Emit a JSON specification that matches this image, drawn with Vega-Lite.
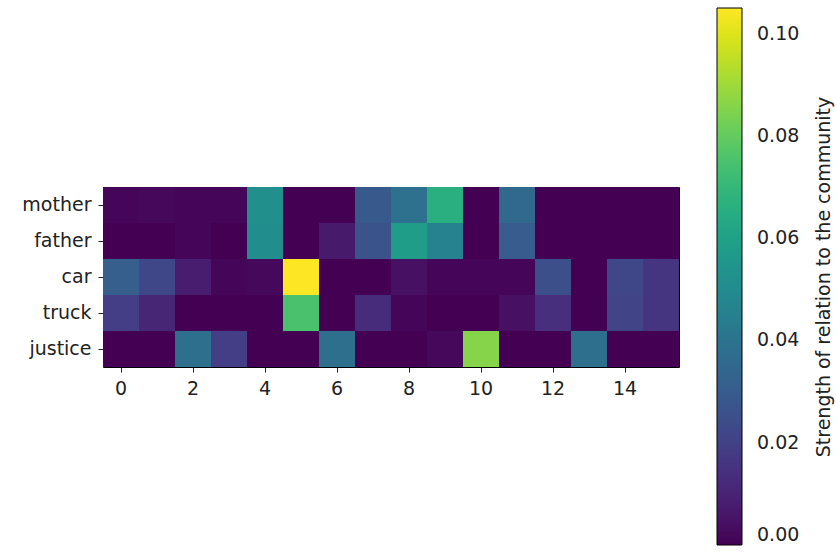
{
  "$schema": "https://vega.github.io/schema/vega-lite/v6.json",
  "width": 576,
  "height": 180,
  "autosize": {"type": "none"},
  "padding": {"left": 103, "top": 187, "right": 157, "bottom": 190},
  "background": "white",
  "config": {
    "font": "DejaVu Sans",
    "view": {"stroke": "black", "strokeWidth": 1},
    "axis": {"labelFont": "DejaVu Sans", "labelFontSize": 19, "labelColor": "#222", "tickColor": "#222", "domain": false, "grid": false, "tickSize": 5}
  },
  "data": {
    "values": [
      {"word": "mother", "col": 0, "v": 0.001}, {"word": "mother", "col": 1, "v": 0.002}, {"word": "mother", "col": 2, "v": 0.001}, {"word": "mother", "col": 3, "v": 0.001},
      {"word": "mother", "col": 4, "v": 0.052}, {"word": "mother", "col": 5, "v": 0.0}, {"word": "mother", "col": 6, "v": 0.0}, {"word": "mother", "col": 7, "v": 0.029},
      {"word": "mother", "col": 8, "v": 0.039}, {"word": "mother", "col": 9, "v": 0.066}, {"word": "mother", "col": 10, "v": 0.0}, {"word": "mother", "col": 11, "v": 0.035},
      {"word": "mother", "col": 12, "v": 0.0}, {"word": "mother", "col": 13, "v": 0.0}, {"word": "mother", "col": 14, "v": 0.0}, {"word": "mother", "col": 15, "v": 0.0},
      {"word": "father", "col": 0, "v": 0.0}, {"word": "father", "col": 1, "v": 0.0}, {"word": "father", "col": 2, "v": 0.001}, {"word": "father", "col": 3, "v": 0.0},
      {"word": "father", "col": 4, "v": 0.051}, {"word": "father", "col": 5, "v": 0.0}, {"word": "father", "col": 6, "v": 0.007}, {"word": "father", "col": 7, "v": 0.027},
      {"word": "father", "col": 8, "v": 0.058}, {"word": "father", "col": 9, "v": 0.046}, {"word": "father", "col": 10, "v": 0.0}, {"word": "father", "col": 11, "v": 0.030},
      {"word": "father", "col": 12, "v": 0.0}, {"word": "father", "col": 13, "v": 0.0}, {"word": "father", "col": 14, "v": 0.0}, {"word": "father", "col": 15, "v": 0.0},
      {"word": "car", "col": 0, "v": 0.031}, {"word": "car", "col": 1, "v": 0.022}, {"word": "car", "col": 2, "v": 0.008}, {"word": "car", "col": 3, "v": 0.001},
      {"word": "car", "col": 4, "v": 0.002}, {"word": "car", "col": 5, "v": 0.105}, {"word": "car", "col": 6, "v": 0.0}, {"word": "car", "col": 7, "v": 0.0},
      {"word": "car", "col": 8, "v": 0.004}, {"word": "car", "col": 9, "v": 0.001}, {"word": "car", "col": 10, "v": 0.001}, {"word": "car", "col": 11, "v": 0.001},
      {"word": "car", "col": 12, "v": 0.025}, {"word": "car", "col": 13, "v": 0.0}, {"word": "car", "col": 14, "v": 0.022}, {"word": "car", "col": 15, "v": 0.016},
      {"word": "truck", "col": 0, "v": 0.019}, {"word": "truck", "col": 1, "v": 0.011}, {"word": "truck", "col": 2, "v": 0.0}, {"word": "truck", "col": 3, "v": 0.0},
      {"word": "truck", "col": 4, "v": 0.0}, {"word": "truck", "col": 5, "v": 0.075}, {"word": "truck", "col": 6, "v": 0.0}, {"word": "truck", "col": 7, "v": 0.013},
      {"word": "truck", "col": 8, "v": 0.001}, {"word": "truck", "col": 9, "v": 0.0}, {"word": "truck", "col": 10, "v": 0.0}, {"word": "truck", "col": 11, "v": 0.004},
      {"word": "truck", "col": 12, "v": 0.014}, {"word": "truck", "col": 13, "v": 0.0}, {"word": "truck", "col": 14, "v": 0.021}, {"word": "truck", "col": 15, "v": 0.016},
      {"word": "justice", "col": 0, "v": 0.0}, {"word": "justice", "col": 1, "v": 0.0}, {"word": "justice", "col": 2, "v": 0.038}, {"word": "justice", "col": 3, "v": 0.019},
      {"word": "justice", "col": 4, "v": 0.0}, {"word": "justice", "col": 5, "v": 0.0}, {"word": "justice", "col": 6, "v": 0.038}, {"word": "justice", "col": 7, "v": 0.0},
      {"word": "justice", "col": 8, "v": 0.0}, {"word": "justice", "col": 9, "v": 0.002}, {"word": "justice", "col": 10, "v": 0.086}, {"word": "justice", "col": 11, "v": 0.0},
      {"word": "justice", "col": 12, "v": 0.0}, {"word": "justice", "col": 13, "v": 0.038}, {"word": "justice", "col": 14, "v": 0.0}, {"word": "justice", "col": 15, "v": 0.0}
    ]
  },
  "mark": {"type": "rect"},
  "encoding": {
    "x": {
      "field": "col", "type": "ordinal",
      "scale": {"paddingInner": 0, "paddingOuter": 0},
      "axis": {"title": null, "values": [0, 2, 4, 6, 8, 10, 12, 14], "labelAngle": 0, "labelPadding": 7}
    },
    "y": {
      "field": "word", "type": "nominal",
      "sort": ["mother", "father", "car", "truck", "justice"],
      "scale": {"paddingInner": 0, "paddingOuter": 0},
      "axis": {"title": null, "labelPadding": 7}
    },
    "color": {
      "field": "v", "type": "quantitative",
      "scale": {"scheme": "viridis", "domain": [0, 0.105]},
      "legend": {
        "orient": "none",
        "legendX": 614,
        "legendY": -179,
        "direction": "vertical",
        "gradientLength": 537,
        "gradientThickness": 25,
        "gradientStrokeColor": "black",
        "gradientStrokeWidth": 1,
        "values": [0, 0.02, 0.04, 0.06, 0.08, 0.1],
        "format": ".2f",
        "labelFont": "DejaVu Sans",
        "labelFontSize": 19,
        "labelColor": "#222",
        "labelOffset": 15,
        "title": "Strength of relation to the community",
        "titleLimit": 600,
        "titleOrient": "right",
        "titleFont": "DejaVu Sans",
        "titleFontSize": 19,
        "titleFontWeight": "normal",
        "titleColor": "#222",
        "titleAnchor": "middle",
        "titlePadding": 16,
        "encode": {"title": {"update": {"angle": {"value": -90}, "align": {"value": "center"}, "baseline": {"value": "top"}}}}
      }
    }
  }
}
